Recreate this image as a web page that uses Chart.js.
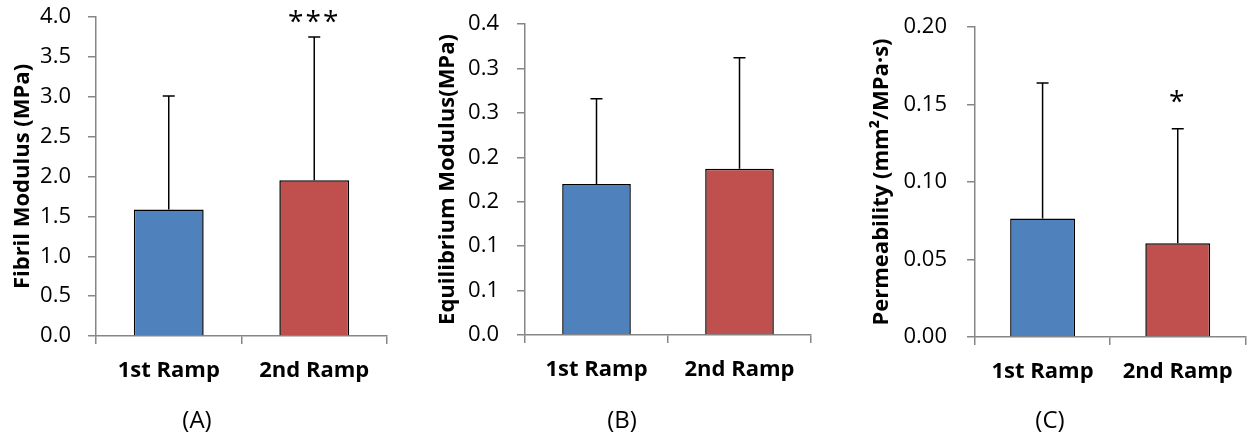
<!DOCTYPE html>
<html lang="en">
<head>
<meta charset="UTF-8">
<title>Ramp comparison</title>
<script src="https://cdn.jsdelivr.net/npm/chart.js"></script>
<style>
  body { margin: 0; background: #fff; }
  #wrap { position: relative; width: 1247px; height: 435px; overflow: hidden; }
  .panel { position: absolute; top: 0; height: 435px; }
  .caption { position: absolute; top: 402px; font: 24px "Open Sans", sans-serif; color: #000; transform: translateX(-50%); }
</style>
</head>
<body>
<div id="wrap">
  <div class="panel" style="left:0px;width:400px"><canvas id="chartA"></canvas></div>
  <div class="panel" style="left:425px;width:400px"><canvas id="chartB"></canvas></div>
  <div class="panel" style="left:859px;width:388px"><canvas id="chartC"></canvas></div>
  <div class="caption" style="left:197px">(A)</div>
  <div class="caption" style="left:622px">(B)</div>
  <div class="caption" style="left:1050px">(C)</div>
</div>

<script>
  // categories
  const ramps = ['1st Ramp', '2nd Ramp'];
  const barColors = ['#4F81BD', '#C0504D'];

  // (A) fibril modulus, MPa
  const fibrilMean = [1.585, 1.952];
  const fibrilSD = [1.424, 1.797];
  const fibrilStars = ['', '***'];
  const fibrilStarAt = [null, 3.96];
  const fibrilTicks = ['0.0', '0.5', '1.0', '1.5', '2.0', '2.5', '3.0', '3.5', '4.0'];

  // (B) equilibrium modulus, MPa (axis steps of 0.05 shown with one decimal)
  const equilMean = [0.170, 0.187];
  const equilSD = [0.096, 0.125];
  const equilTicks = ['0.0', '0.1', '0.1', '0.2', '0.2', '0.3', '0.3', '0.4'];

  // (C) permeability, mm2/MPa.s
  const permMean = [0.0764, 0.0605];
  const permSD = [0.0875, 0.0738];
  const permStars = ['', '*'];
  const permStarAt = [null, 0.153];
  const permTicks = ['0.00', '0.05', '0.10', '0.15', '0.20'];

  const axisGray = '#868686';
  const fontName = '"Open Sans", sans-serif';

  const errorBars = {
    id: 'errorBars',
    afterDatasetsDraw(chart, args, opts) {
      const ctx = chart.ctx;
      const y = chart.scales.y;
      const meta = chart.getDatasetMeta(0);
      const values = chart.data.datasets[0].data;
      ctx.save();
      ctx.strokeStyle = '#000';
      ctx.lineWidth = 1.5;
      meta.data.forEach((bar, i) => {
        const top = y.getPixelForValue(values[i] + opts.sd[i]);
        ctx.beginPath();
        ctx.moveTo(bar.x, bar.y);
        ctx.lineTo(bar.x, top);
        ctx.moveTo(bar.x - 6, top);
        ctx.lineTo(bar.x + 6, top);
        ctx.stroke();
        if (opts.stars && opts.stars[i]) {
          ctx.fillStyle = '#000';
          ctx.font = '28px ' + fontName;
          ctx.letterSpacing = '2px';
          ctx.textAlign = 'center';
          ctx.textBaseline = 'middle';
          ctx.fillText(opts.stars[i], bar.x, y.getPixelForValue(opts.starAt[i]) + 3);
        }
      });
      ctx.restore();
    }
  };

  function makeChart(id, p) {
    return new Chart(document.getElementById(id), {
      type: 'bar',
      data: {
        labels: ramps,
        datasets: [{
          data: p.mean,
          backgroundColor: barColors,
          borderColor: '#000',
          borderWidth: 1.5,
          categoryPercentage: 1,
          barPercentage: 0.48
        }]
      },
      options: {
        responsive: true,
        maintainAspectRatio: false,
        animation: false,
        layout: { padding: { top: p.top, right: p.right, left: 0, bottom: 0 } },
        plugins: {
          legend: { display: false },
          tooltip: { enabled: false },
          errorBars: { sd: p.sd, stars: p.stars, starAt: p.starAt }
        },
        scales: {
          x: {
            grid: { display: true, drawOnChartArea: false, color: axisGray, lineWidth: 1.5, tickLength: 8, offset: true },
            border: { color: axisGray, width: 1.5 },
            ticks: { color: '#000', padding: 14, font: { family: fontName, size: 22, weight: 'bold' }, maxRotation: 0 },
            afterFit(scale) { scale.height = p.xHeight; }
          },
          y: {
            min: 0,
            max: p.max,
            ticks: {
              stepSize: p.step,
              color: '#000',
              padding: p.tickPad,
              font: { family: fontName, size: 22 },
              callback: (v, i) => p.tickLabels[i]
            },
            grid: { display: true, drawOnChartArea: false, color: axisGray, lineWidth: 1.5, tickLength: 8 },
            border: { color: axisGray, width: 1.5 },
            title: {
              display: true,
              text: p.title,
              color: '#000',
              padding: { top: 10, bottom: 0 },
              font: { family: fontName, size: 22, weight: 'bold' }
            },
            afterFit(scale) {
              scale.width = p.axisWidth;
              // keep the plot top at the layout padding
              scale.paddingTop = 0;
              scale.paddingBottom = 0;
            }
          }
        }
      },
      plugins: [errorBars]
    });
  }

  makeChart('chartA', {
    mean: fibrilMean, sd: fibrilSD, stars: fibrilStars, starAt: fibrilStarAt,
    max: 4, step: 0.5, tickLabels: fibrilTicks, title: 'Fibril Modulus (MPa)',
    axisWidth: 96, tickPad: 17, top: 17, right: 13, xHeight: 99
  });

  makeChart('chartB', {
    mean: equilMean, sd: equilSD,
    max: 0.35, step: 0.05, tickLabels: equilTicks, title: 'Equilibrium Modulus(MPa)',
    axisWidth: 100, tickPad: 18, top: 24, right: 14, xHeight: 100
  });

  makeChart('chartC', {
    mean: permMean, sd: permSD, stars: permStars, starAt: permStarAt,
    max: 0.2, step: 0.05, tickLabels: permTicks, title: 'Permeability (mm\u00B2/MPa\u00B7s)',
    axisWidth: 116, tickPad: 20, top: 27, right: 1, xHeight: 98
  });
</script>
</body>
</html>
